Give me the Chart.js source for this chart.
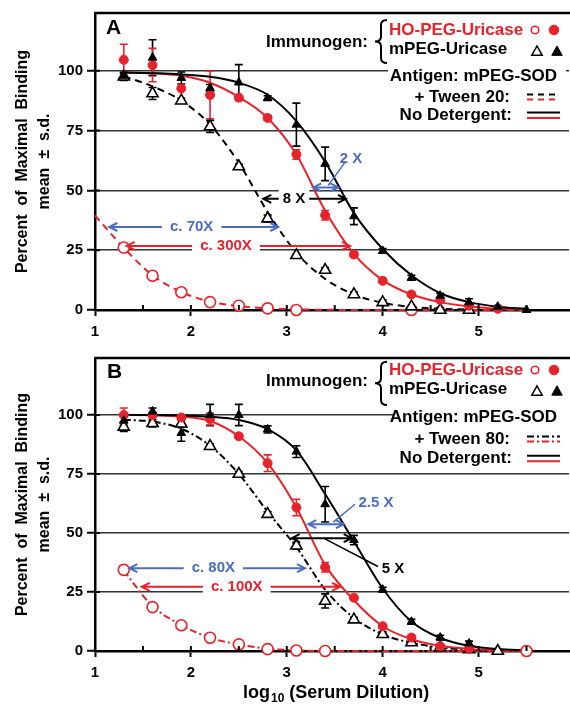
<!DOCTYPE html>
<html>
<head>
<meta charset="utf-8">
<script src="https://cdn.jsdelivr.net/npm/chart.js@4.4.0/dist/chart.umd.min.js"></script>
<style>
  html, body { margin: 0; padding: 0; background: #fff; }
  #wrap { position: relative; width: 570px; height: 704px; }
  #chartA { position: absolute; left: 0; top: 0; }
  #chartB { position: absolute; left: 0; top: 345px; }
</style>
</head>
<body>
<div id="wrap">
  <canvas id="chartA" width="570" height="345"></canvas>
  <canvas id="chartB" width="570" height="359"></canvas>
</div>
<script>
// log10 serum dilutions of the measured points (2-fold steps)
const logDilution = [1.3, 1.6, 1.9, 2.2, 2.5, 2.8, 3.1, 3.4, 3.7, 4.0, 4.3, 4.6, 4.9, 5.2, 5.5];
const curveX = [1.0, 1.3, 1.6, 1.9, 2.2, 2.5, 2.8, 3.1, 3.4, 3.7, 4.0, 4.3, 4.6, 4.9, 5.2, 5.5];
const xTickValues = [1, 2, 3, 4, 5];
const yTickValues = [0, 25, 50, 75, 100];

// Panel A - measured points (mean) and s.d.
const aHoNoDet   = [104.6, 102.4, 92.6, 89.9, 88.8, 80.3, 65, 39.6, 23.2, 12.2, 6.5, 4.2, 1.8, 0.5, null];
const aHoNoDetSd = [6.5, 7, 0, 10, 0, 1, 2, 2, 1, 1, 0.5, 0.5, 0, 0, 0];
const aMNoDet    = [97.9, 105.5, 97, 92.8, 95.1, 88.6, 77.5, 61.1, 39.2, 24.7, 13.5, 6, 3.2, 1.4, 0];
const aMNoDetSd  = [1.5, 7.5, 2.5, 1.5, 7.5, 1, 9, 7, 3.5, 1, 1, 1, 1.5, 0.5, 0];
const aMTween    = [97.5, 90.5, 87.5, 76.7, 60, 38.2, 22.9, 16.7, 6.5, 3.2, 1.4, 0, 0, null, null];
const aMTweenSd  = [1.5, 2.5, 1, 2.5, 1, 1.5, 0.5, 1, 1, 1, 0.5, 1, 1, 0, 0];
const aHoTween   = [26.1, 14.3, 7.4, 3.3, 1.8, 0.7, 0, null, null, null, 0, null, null, null, null];
const aHoTweenSd = [0.8, 0.5, 0.5, 0, 0, 0, 0, 0, 0, 0, 0, 0, 0, 0, 0];

// Panel A - fitted curves
const aHoNoDetCurve = [null, 99.3, 99, 97.9, 95, 89, 80.3, 65, 41.5, 23.5, 12.5, 6.5, 3.3, 1.5, 0.6, 0.2];
const aMNoDetCurve  = [null, 99.3, 99, 98.5, 97.5, 95, 90, 79, 62, 40.5, 25.5, 14.5, 7, 3.3, 1.4, 0.5];
const aMTweenCurve  = [null, 97.8, 93.5, 87.5, 77.5, 61.5, 41, 24, 13, 6.5, 3, 1.3, 0.5, 0.2, null, null];
const aHoTweenCurve = [39.5, 26, 14.5, 7.5, 3.5, 1.6, 0.7, 0.3, 0.1, 0, 0, 0, 0, 0, 0, 0];

// Panel B - measured points (mean) and s.d.
const bHoNoDet   = [100, 100, 99, 98.3, 91, 79.6, 60.8, 35.5, 22.6, 10.5, 5.7, 2, 1, null, null];
const bHoNoDetSd = [3, 1, 0, 2.5, 0.5, 3.5, 3.5, 2, 0.5, 0.5, 0.5, 0.5, 0.5, 0, 0];
const bMNoDet    = [97.6, 101.5, 92.4, 100, 100, 93.9, 84.5, 62.2, 47, 26, 12.4, 5.7, 3.2, null, null];
const bMNoDetSd  = [2, 1.5, 3.5, 4.5, 4.5, 1.5, 2.5, 7.5, 2, 1, 1, 1, 1, 0, 0];
const bMTween    = [95, 96.5, 96.3, 86.8, 75, 58, 44.6, 21.2, 13.3, 7.1, 3.6, 1.5, 0.7, 0, null];
const bMTweenSd  = [2, 1.5, 1.5, 1, 1, 1, 1.5, 3, 1, 1, 0.5, 0.5, 0.5, 0.3, 0];
const bHoTween   = [34.4, 18.6, 10.9, 5.6, 2.8, 0.8, 0.2, 0, null, null, null, null, null, null, 0];
const bHoTweenSd = [1.5, 1, 1, 0.5, 0, 0, 0, 0, 0, 0, 0, 0, 0, 0, 0];

// Panel B - fitted curves
const bHoNoDetCurve = [null, 100, 99.9, 99.4, 97.5, 91, 79.6, 60.8, 36.5, 21.5, 10.5, 5, 2.2, 0.9, 0.3, 0.1];
const bMNoDetCurve  = [null, 100, 100, 99.8, 99.3, 97.9, 94, 85, 66.5, 46.5, 26.5, 12.5, 5.5, 2.2, 0.8, 0.3];
const bMTweenCurve  = [null, 98, 97.2, 94.2, 87, 75, 59, 44, 26, 14, 7, 3.5, 1.5, 0.6, 0.2, null];
const bHoTweenCurve = [null, 34, 19, 11, 5.6, 2.8, 1.0, 0.3, 0, 0, 0, 0, 0, 0, 0, 0];

const FONT = '"Liberation Sans", Arial, Helvetica, sans-serif';
const RED = "#e8222a";
const BLUE = "#4a6dc2";
const BLACK = "#000";
const DASH_20 = [7, 5];
const DASH_80 = [7, 3, 2, 3];

function toPoints(xs, ys, sds) {
  const out = [];
  xs.forEach(function (x, i) {
    if (ys[i] === null || ys[i] === undefined) return;
    out.push({ x: x, y: ys[i], sd: sds ? sds[i] : 0 });
  });
  return out;
}

function curveSet(ys, color, dash) {
  return {
    data: toPoints(curveX, ys),
    showLine: true,
    borderColor: color,
    borderWidth: 2,
    borderDash: dash,
    pointRadius: 0,
    pointHoverRadius: 0,
    cubicInterpolationMode: "monotone",
    fill: false,
    clip: false,
    order: 3,
  };
}

function markerSet(ys, sds, style, open, color, radius, order) {
  return {
    data: toPoints(logDilution, ys, sds),
    showLine: false,
    pointStyle: style,
    pointRadius: radius,
    pointHoverRadius: radius,
    pointBackgroundColor: open ? "#fff" : color,
    pointBorderColor: color,
    pointBorderWidth: open ? 1.6 : 1,
    errColor: color,
    clip: false,
    order: order,
  };
}

// ---- small drawing helpers used by the decoration plugin ----
function hLine(ctx, x1, x2, y, color, dash, width) {
  ctx.save();
  ctx.strokeStyle = color;
  ctx.lineWidth = width || 2;
  ctx.setLineDash(dash || []);
  ctx.beginPath();
  ctx.moveTo(x1, y);
  ctx.lineTo(x2, y);
  ctx.stroke();
  ctx.restore();
}

function circleMark(ctx, x, y, r, color, open) {
  ctx.save();
  ctx.beginPath();
  ctx.arc(x, y, r, 0, Math.PI * 2);
  ctx.fillStyle = open ? "#fff" : color;
  ctx.fill();
  ctx.strokeStyle = color;
  ctx.lineWidth = open ? 1.6 : 1;
  ctx.stroke();
  ctx.restore();
}

function triangleMark(ctx, x, y, r, color, open) {
  ctx.save();
  ctx.beginPath();
  ctx.moveTo(x, y - r);
  ctx.lineTo(x + r * 0.95, y + r * 0.7);
  ctx.lineTo(x - r * 0.95, y + r * 0.7);
  ctx.closePath();
  ctx.fillStyle = open ? "#fff" : color;
  ctx.fill();
  ctx.strokeStyle = color;
  ctx.lineWidth = open ? 1.5 : 1;
  ctx.stroke();
  ctx.restore();
}

function drawBrace(ctx, xL, xR, yT, yB) {
  const xm = (xL + xR) / 2;
  const ym = (yT + yB) / 2;
  ctx.save();
  ctx.strokeStyle = BLACK;
  ctx.lineWidth = 2;
  ctx.beginPath();
  ctx.moveTo(xR, yT);
  ctx.quadraticCurveTo(xm, yT, xm, yT + 5);
  ctx.lineTo(xm, ym - 5);
  ctx.quadraticCurveTo(xm, ym, xL, ym);
  ctx.quadraticCurveTo(xm, ym, xm, ym + 5);
  ctx.lineTo(xm, yB - 5);
  ctx.quadraticCurveTo(xm, yB, xR, yB);
  ctx.stroke();
  ctx.restore();
}

function drawLegend(ctx, L) {
  ctx.save();
  ctx.font = "bold 17px " + FONT;
  ctx.textBaseline = "middle";
  ctx.fillStyle = BLACK;
  ctx.textAlign = "right";
  ctx.fillText("Immunogen:", 368, L.immuno);
  drawBrace(ctx, 375, 387, L.braceTop, L.braceBottom);
  ctx.textAlign = "left";
  ctx.fillStyle = RED;
  ctx.fillText("HO-PEG-Uricase", 389, L.ho);
  ctx.fillStyle = BLACK;
  ctx.fillText("mPEG-Uricase", 389, L.m);
  circleMark(ctx, 535, L.ho, 3.8, RED, true);
  circleMark(ctx, 554, L.ho, 4.8, RED, false);
  triangleMark(ctx, 537, L.m + 2, 5.5, BLACK, true);
  triangleMark(ctx, 557, L.m + 2, 5.5, BLACK, false);
  ctx.textAlign = "right";
  ctx.fillText("Antigen: mPEG-SOD", 557, L.antigen);
  ctx.fillText(L.tweenText, 510, L.tween);
  ctx.fillText("No Detergent:", 512, L.nodet);
  hLine(ctx, 527, 560, L.tween - 2.5, BLACK, L.dash);
  hLine(ctx, 527, 560, L.tween + 2.5, RED, L.dash);
  hLine(ctx, 527, 560, L.nodet - 2.5, BLACK, []);
  hLine(ctx, 527, 560, L.nodet + 3, RED, []);
  ctx.restore();
}

function drawArrow(ctx, xs, ys, a) {
  const x1 = xs.getPixelForValue(a.x1);
  const x2 = xs.getPixelForValue(a.x2);
  const y = ys.getPixelForValue(a.y);
  ctx.save();
  ctx.strokeStyle = a.color;
  ctx.lineWidth = 2;
  ctx.beginPath();
  ctx.moveTo(x1, y);
  ctx.lineTo(x2, y);
  ctx.moveTo(x1 + 8, y - 4);
  ctx.lineTo(x1, y);
  ctx.lineTo(x1 + 8, y + 4);
  ctx.moveTo(x2 - 8, y - 4);
  ctx.lineTo(x2, y);
  ctx.lineTo(x2 - 8, y + 4);
  ctx.stroke();
  if (a.text) {
    ctx.font = "bold 15px " + FONT;
    const tx = xs.getPixelForValue(a.tx);
    const w = ctx.measureText(a.text).width;
    ctx.fillStyle = "#fff";
    ctx.fillRect(tx - w / 2 - a.pad, y - 10, w + 2 * a.pad, 20);
    ctx.fillStyle = a.color;
    ctx.textAlign = "center";
    ctx.textBaseline = "middle";
    ctx.fillText(a.text, tx, y);
  }
  ctx.restore();
}

function drawNote(ctx, xs, ys, n) {
  ctx.save();
  ctx.strokeStyle = n.color;
  ctx.lineWidth = 1.5;
  ctx.beginPath();
  ctx.moveTo(xs.getPixelForValue(n.from[0]), ys.getPixelForValue(n.from[1]));
  ctx.lineTo(xs.getPixelForValue(n.to[0]), ys.getPixelForValue(n.to[1]));
  ctx.stroke();
  ctx.font = "bold 15px " + FONT;
  ctx.fillStyle = n.color;
  ctx.textAlign = "center";
  ctx.textBaseline = "middle";
  ctx.fillText(n.text, xs.getPixelForValue(n.x), ys.getPixelForValue(n.y));
  ctx.restore();
}

function makeDecor(cfg) {
  return {
    id: "panelDecor" + cfg.letter,
    beforeDatasetsDraw(chart) {
      const ctx = chart.ctx;
      const ys = chart.scales.y;
      // white patch behind the antigen heading hides the 100 % grid line
      const b = cfg.legend.box;
      ctx.save();
      ctx.fillStyle = "#fff";
      ctx.fillRect(b[0], b[1], b[2], b[3]);
      ctx.restore();
      // error bars (mean +/- s.d.)
      chart.data.datasets.forEach(function (ds, i) {
        if (!ds.errColor) return;
        const meta = chart.getDatasetMeta(i);
        ctx.save();
        ctx.strokeStyle = ds.errColor;
        ctx.lineWidth = 1.6;
        ds.data.forEach(function (p, j) {
          if (!p.sd) return;
          const px = meta.data[j].x;
          const yTop = ys.getPixelForValue(p.y + p.sd);
          const yBot = ys.getPixelForValue(p.y - p.sd);
          ctx.beginPath();
          ctx.moveTo(px, yTop);
          ctx.lineTo(px, yBot);
          ctx.moveTo(px - 4, yTop);
          ctx.lineTo(px + 4, yTop);
          ctx.moveTo(px - 4, yBot);
          ctx.lineTo(px + 4, yBot);
          ctx.stroke();
        });
        ctx.restore();
      });
    },
    afterDatasetsDraw(chart) {
      const ctx = chart.ctx;
      const area = chart.chartArea;
      const xs = chart.scales.x;
      const ys = chart.scales.y;
      // top frame
      hLine(ctx, area.left - 1, area.right + 1, area.top, BLACK, [], 2.5);
      // inner tick marks
      ctx.save();
      ctx.strokeStyle = BLACK;
      ctx.lineWidth = 2;
      ctx.beginPath();
      for (let v = 1.5; v < 6; v += 0.5) {
        const px = xs.getPixelForValue(v);
        ctx.moveTo(px, area.bottom);
        ctx.lineTo(px, area.bottom - 5);
      }
      yTickValues.forEach(function (v) {
        const py = ys.getPixelForValue(v);
        ctx.moveTo(area.left, py);
        ctx.lineTo(area.left + 5, py);
      });
      ctx.stroke();
      ctx.restore();
      // panel letter
      ctx.save();
      ctx.font = "bold 21px " + FONT;
      ctx.fillStyle = BLACK;
      ctx.textBaseline = "middle";
      ctx.fillText(cfg.letter, cfg.letterPos[0], cfg.letterPos[1]);
      ctx.restore();
      drawLegend(ctx, cfg.legend);
      cfg.arrows.forEach(function (a) { drawArrow(ctx, xs, ys, a); });
      cfg.notes.forEach(function (n) { drawNote(ctx, xs, ys, n); });
      if (cfg.xTitle) {
        ctx.save();
        ctx.fillStyle = BLACK;
        ctx.textBaseline = "alphabetic";
        let x = cfg.xTitle.x;
        const y = cfg.xTitle.y;
        ctx.font = "bold 18px " + FONT;
        ctx.fillText("log", x, y);
        x += ctx.measureText("log").width + 1;
        ctx.font = "bold 12px " + FONT;
        ctx.fillText("10", x, y + 4);
        x += ctx.measureText("10").width;
        ctx.font = "bold 18px " + FONT;
        ctx.fillText(" (Serum Dilution)", x, y);
        ctx.restore();
      }
    },
  };
}

function makeChart(canvasId, datasets, cfg) {
  return new Chart(document.getElementById(canvasId), {
    type: "scatter",
    data: { datasets: datasets },
    options: {
      responsive: false,
      animation: false,
      devicePixelRatio: 1,
      events: [],
      layout: { autoPadding: false, padding: { left: 0, right: 1, top: cfg.padTop, bottom: 0 } },
      plugins: {
        legend: { display: false },
        tooltip: { enabled: false },
      },
      scales: {
        x: {
          type: "linear",
          min: 1,
          max: 5.943,
          afterFit: function (s) { s.height = cfg.xHeight; },
          afterBuildTicks: function (s) {
            s.ticks = xTickValues.map(function (v) { return { value: v }; });
          },
          border: { color: BLACK, width: 2.5 },
          grid: { drawOnChartArea: false, drawTicks: true, tickLength: 6, tickColor: BLACK, tickWidth: 2 },
          ticks: {
            color: BLACK,
            padding: 7,
            font: { family: FONT, size: 15, weight: "bold" },
            callback: function (v) { return v; },
          },
        },
        y: {
          type: "linear",
          min: 0,
          max: 124.17,
          afterFit: function (s) { s.width = 95; },
          afterBuildTicks: function (s) {
            s.ticks = yTickValues.map(function (v) { return { value: v }; });
          },
          border: { color: BLACK, width: 2.5 },
          grid: {
            color: function (c) { return c.tick && c.tick.value === 0 ? "rgba(0,0,0,0)" : "#333"; },
            lineWidth: 1.5,
            drawTicks: true,
            tickLength: 8,
            tickColor: BLACK,
            tickWidth: 2,
          },
          ticks: {
            color: BLACK,
            padding: 4,
            font: { family: FONT, size: 15, weight: "bold" },
          },
          title: {
            display: true,
            text: ["Percent  of  Maximal  Binding", "mean  \u00b1  s.d."],
            color: BLACK,
            font: { family: FONT, size: 16, weight: "bold", lineHeight: 1.375 },
            padding: { top: 12, bottom: 0 },
          },
        },
      },
    },
    plugins: [makeDecor(cfg)],
  });
}

// ---------- Panel A (Tween 20) ----------
const datasetsA = [
  markerSet(aMNoDet, aMNoDetSd, "triangle", false, BLACK, 5, 1),
  markerSet(aHoNoDet, aHoNoDetSd, "circle", false, RED, 4.5, 1),
  markerSet(aMTween, aMTweenSd, "triangle", true, BLACK, 6.5, 2),
  markerSet(aHoTween, aHoTweenSd, "circle", true, RED, 5.5, 2),
  curveSet(aMNoDetCurve, BLACK, []),
  curveSet(aHoNoDetCurve, RED, []),
  curveSet(aMTweenCurve, BLACK, DASH_20),
  curveSet(aHoTweenCurve, RED, DASH_20),
];

makeChart("chartA", datasetsA, {
  letter: "A",
  letterPos: [106, 28],
  padTop: 12,
  xHeight: 35,
  legend: {
    immuno: 42, ho: 30, m: 49.5, braceTop: 20, braceBottom: 63,
    antigen: 76, tween: 97, nodet: 115,
    box: [388, 64, 178, 23],
    tweenText: "+ Tween 20:",
    dash: [6, 5],
  },
  arrows: [
    { x1: 3.276, x2: 3.537, y: 51.25, color: BLUE },
    { x1: 2.755, x2: 3.617, y: 46.5, color: BLACK, text: "8 X", tx: 3.075, pad: 4 },
    { x1: 1.149, x2: 2.911, y: 34.7, color: BLUE, text: "c. 70X", tx: 2.008, pad: 8 },
    { x1: 1.33, x2: 3.66, y: 26.8, color: RED, text: "c. 300X", tx: 2.366, pad: 8 },
  ],
  notes: [
    { text: "2 X", x: 3.67, y: 63.3, color: BLUE, from: [3.607, 61.7], to: [3.43, 52] },
  ],
  xTitle: null,
});

// ---------- Panel B (Tween 80) ----------
const datasetsB = [
  markerSet(bMNoDet, bMNoDetSd, "triangle", false, BLACK, 5, 1),
  markerSet(bHoNoDet, bHoNoDetSd, "circle", false, RED, 4.5, 1),
  markerSet(bMTween, bMTweenSd, "triangle", true, BLACK, 6.5, 2),
  markerSet(bHoTween, bHoTweenSd, "circle", true, RED, 5.5, 2),
  curveSet(bMNoDetCurve, BLACK, []),
  curveSet(bHoNoDetCurve, RED, []),
  curveSet(bMTweenCurve, BLACK, DASH_80),
  curveSet(bHoTweenCurve, RED, DASH_80),
];

makeChart("chartB", datasetsB, {
  letter: "B",
  letterPos: [107, 27],
  padTop: 8,
  xHeight: 53,
  legend: {
    immuno: 36.7, ho: 25, m: 44.3, braceTop: 16.7, braceBottom: 60,
    antigen: 72.3, tween: 94, nodet: 113.3,
    box: [393, 60, 176, 24],
    tweenText: "+ Tween 80:",
    dash: [7, 3, 2, 3],
  },
  arrows: [
    { x1: 3.224, x2: 3.596, y: 53.75, color: BLUE },
    { x1: 3.051, x2: 3.677, y: 47.8, color: BLACK },
    { x1: 1.358, x2: 3.19, y: 35.1, color: BLUE, text: "c. 80X", tx: 2.234, pad: 8 },
    { x1: 1.487, x2: 3.555, y: 27.2, color: RED, text: "c. 100X", tx: 2.478, pad: 8 },
  ],
  notes: [
    { text: "2.5 X", x: 3.93, y: 62.6, color: BLUE, from: [3.711, 62.2], to: [3.485, 54.6] },
    { text: "5 X", x: 4.107, y: 34.9, color: BLACK, from: [3.398, 47.5], to: [3.951, 35.8] },
  ],
  xTitle: { x: 243, y: 353 },
});
</script>
</body>
</html>
